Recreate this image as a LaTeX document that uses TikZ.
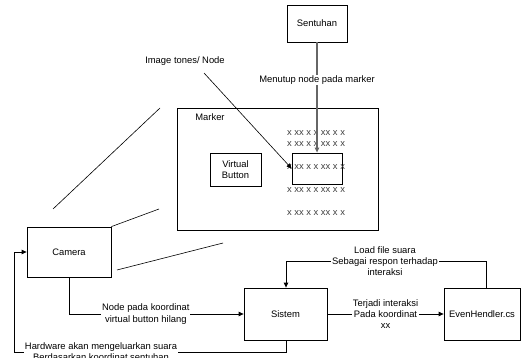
\documentclass[tikz,border=0pt]{standalone}
\usepackage{fontspec}
\setmainfont{Liberation Sans}
\usetikzlibrary{arrows.meta}
\begin{document}
\begin{tikzpicture}[x=1pt,y=-1pt,
  font=\fontsize{9.4}{11.2}\selectfont,
  box/.style={draw, line width=0.8pt, inner sep=0pt, align=center},
  conn/.style={line width=0.8pt},
  arr/.style={conn, -{Triangle[length=5pt,width=4.5pt]}},
  lbl/.style={fill=white, inner sep=1pt, align=center},
  xrow/.style={inner sep=0pt, text=black!75}]
\useasboundingbox (0,0) rectangle (532,358);
\clip (0,0) rectangle (532,358);
% boxes
\node[box, minimum width=60pt, minimum height=37pt] (sent) at (317,23.5) {Sentuhan};
\node[box, minimum width=201pt, minimum height=122pt] (marker) at (277.5,169) {};
\node (markerlbl) at (210,117) {Marker};
\node[box, minimum width=51pt, minimum height=33pt] (vb) at (235.5,169.5) {Virtual\\Button};
\node[box, minimum width=50pt, minimum height=31pt] (small) at (317,168.5) {};
\node[box, minimum width=84pt, minimum height=50pt] (cam) at (69,252) {Camera};
\node[box, minimum width=83pt, minimum height=52pt] (sis) at (285.5,314) {Sistem};
\node[box, minimum width=76pt, minimum height=52pt] (ev) at (482,314) {EvenHendler.cs};
% x rows
\node[xrow] (r1) at (316,133) {x xx x x xx x x};
\node[xrow] (r2) at (316,144) {x xx x x xx x x};
\node[xrow] (r3) at (316,167) {x xx x x xx x x};
\node[xrow] (r4) at (316,190) {x xx x x xx x x};
\node[xrow] (r5) at (316,213) {x xx x x xx x x};
% image tones arrow
\node (img) at (185,61) {Image tones/ Node};
\coordinate (imgs) at (204,73);
\draw[arr, line width=0.6pt] (imgs) -- (small.west);
% sentuhan to small box
\draw[arr, draw=black!60, line width=1.1pt] (sent.south) -- (small.north);
\node[lbl] (menutup) at (317,80) {Menutup node pada marker};
% view lines
\coordinate (v1a) at (160,108); \coordinate (v1b) at (53,209);
\coordinate (v2b) at (159,209);
\coordinate (v3a) at (223,243); \coordinate (v3b) at (117,270);
\draw[conn, line width=0.6pt] (v1a) -- (v1b);
\draw[conn, line width=0.6pt] (cam.north east) -- (v2b);
\draw[conn, line width=0.6pt] (v3a) -- (v3b);
% camera -> sistem
\draw[arr] (cam.south) |- (sis.west)
  node[lbl, pos=0.72] (nodepada) {Node pada koordinat\\virtual button hilang};
% sistem -> ev
\draw[arr] (sis.east) -- (ev.west)
  node[lbl, pos=0.5] (terjadi) {Terjadi interaksi\\Pada koordinat\\xx};
% ev -> sistem (top)
\coordinate (evtop) at (486,261);
\coordinate (sistop) at (286,261);
\draw[arr] (ev.north -| evtop) -- (evtop) -- (sistop) -- (sis.north -| sistop);
\node[lbl] (load) at (385,261) {Load file suara\\Sebagai respon terhadap\\interaksi};
% sistem -> camera (bottom loop)
\coordinate (b1) at (286,352);
\coordinate (b2) at (14,352);
\coordinate (b3) at (14,252);
\draw[arr] (sis.south -| b1) -- (b1) -- (b2) -- (b3) -- (cam.west);
\node[lbl, inner ysep=0pt] (hw) at (101,352) {Hardware akan mengeluarkan suara\\Berdasarkan koordinat sentuhan};
\end{tikzpicture}
\end{document}
